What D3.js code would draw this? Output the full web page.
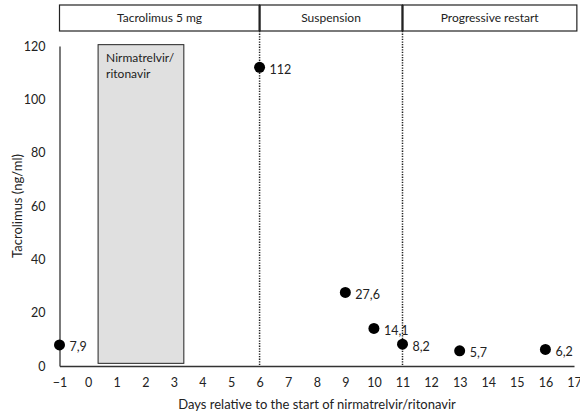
<!DOCTYPE html>
<html>
<head>
<meta charset="utf-8">
<script src="https://cdn.jsdelivr.net/npm/d3@7"></script>
<style>
  body { margin: 0; background: #fff; }
  svg { font-family: Lato, "Open Sans", sans-serif; }
</style>
</head>
<body>
<svg id="chart" width="580" height="413"></svg>
<script>
// data
var DAYS = [-1, 6, 9, 10, 11, 13, 16];
var LEVELS = [7.9, 112, 27.6, 14.1, 8.2, 5.7, 6.2];
var LEVEL_LABELS = ["7,9", "112", "27,6", "14,1", "8,2", "5,7", "6,2"];
var X_TICKS = d3.range(-1, 18);
var Y_TICKS = [0, 20, 40, 60, 80, 100, 120];
var PHASES = ["Tacrolimus 5 mg", "Suspension", "Progressive restart"];
var PHASE_BOUNDS = [-1, 6, 11, 17.1];
var DRUG_WINDOW = [0.35, 3.35];
var DRUG_LABEL = ["Nirmatrelvir/", "ritonavir"];

const svg = d3.select('#chart');
const width = 580, height = 413;

const x = d3.scaleLinear().domain([-1, 17]).range([59.5, 574]);
const y = d3.scaleLinear().domain([0, 120]).range([366, 46]);

// header boxes
const head = svg.append('g');
for (let i = 0; i < PHASES.length; i++) {
    head.append('rect')
        .attr('x', x(PHASE_BOUNDS[i]))
        .attr('y', 5)
        .attr('width', x(PHASE_BOUNDS[i + 1]) - x(PHASE_BOUNDS[i]))
        .attr('height', 26)
        .attr('fill', 'white')
        .attr('stroke', '#222')
        .attr('stroke-width', 1.2);
    head.append('text')
        .attr('x', (x(PHASE_BOUNDS[i]) + x(PHASE_BOUNDS[i + 1])) / 2)
        .attr('y', 18)
        .attr('dy', '0.35em')
        .attr('text-anchor', 'middle')
        .attr('font-size', 12)
        .attr('fill', '#222')
        .text(PHASES[i]);
}
[6, 11].forEach((d) => {
    head.append('line')
        .attr('x1', x(d)).attr('x2', x(d))
        .attr('y1', 5).attr('y2', 31)
        .attr('stroke', '#222').attr('stroke-width', 2.2);
});

// drug window
svg.append('rect')
    .attr('x', x(DRUG_WINDOW[0]))
    .attr('y', y(120.5))
    .attr('width', x(DRUG_WINDOW[1]) - x(DRUG_WINDOW[0]))
    .attr('height', y(1) - y(120.5))
    .attr('fill', '#e0e0e0')
    .attr('stroke', '#222')
    .attr('stroke-width', 1);
svg.append('g')
    .selectAll('text')
    .data(DRUG_LABEL)
    .join('text')
    .attr('x', x(DRUG_WINDOW[0]) + 8)
    .attr('y', (d, i) => 62 + i * 16)
    .attr('font-size', 12)
    .attr('fill', '#222')
    .text((d) => d);

// dotted lines
[6, 11].forEach((d) => {
    svg.append('line')
        .attr('x1', x(d)).attr('x2', x(d))
        .attr('y1', 31).attr('y2', y(0))
        .attr('stroke', '#222')
        .attr('stroke-width', 1.5)
        .attr('stroke-dasharray', '1.3,1.3');
});

// axes
const xAxis = (g) =>
    g.attr('transform', `translate(0,${y(0)})`)
        .call(d3.axisBottom(x).tickValues(X_TICKS).tickSize(0).tickPadding(12))
        .call((g) => g.select('.domain').attr('stroke', '#333').attr('stroke-width', 1.3))
        .call((g) => g.selectAll('text').attr('font-size', 12.5).attr('fill', '#222').attr('font-family', 'Lato, "Open Sans", sans-serif'));
const yAxis = (g) =>
    g.attr('transform', `translate(${x(-1)},0)`)
        .call(d3.axisLeft(y).tickValues(Y_TICKS).tickSize(0).tickPadding(14))
        .call((g) => g.select('.domain').attr('stroke', '#333').attr('stroke-width', 1.3))
        .call((g) => g.selectAll('text').attr('font-size', 12.5).attr('fill', '#222').attr('font-family', 'Lato, "Open Sans", sans-serif'));
svg.append('g').call(xAxis);
svg.append('g').call(yAxis);

// points
const pts = DAYS.map((d, i) => ({ day: d, value: LEVELS[i], label: LEVEL_LABELS[i] }));
svg.append('g')
    .selectAll('circle')
    .data(pts)
    .join('circle')
    .attr('cx', (d) => x(d.day))
    .attr('cy', (d) => y(d.value))
    .attr('r', 5.5)
    .attr('fill', '#000');
svg.append('g')
    .selectAll('text')
    .data(pts)
    .join('text')
    .attr('x', (d) => x(d.day) + 10)
    .attr('y', (d) => y(d.value) + 2)
    .attr('dy', '0.35em')
    .attr('font-size', 12.5)
    .attr('fill', '#222')
    .text((d) => d.label);

// axis titles
svg.append('text')
    .attr('x', 317)
    .attr('y', 404)
    .attr('dy', '0.35em')
    .attr('text-anchor', 'middle')
    .attr('font-size', 13)
    .attr('fill', '#222')
    .text('Days relative to the start of nirmatrelvir/ritonavir');
svg.append('text')
    .attr('transform', 'translate(17,206) rotate(-90)')
    .attr('dy', '0.35em')
    .attr('text-anchor', 'middle')
    .attr('font-size', 13)
    .attr('fill', '#222')
    .text('Tacrolimus (ng/ml)');
</script>
</body>
</html>
